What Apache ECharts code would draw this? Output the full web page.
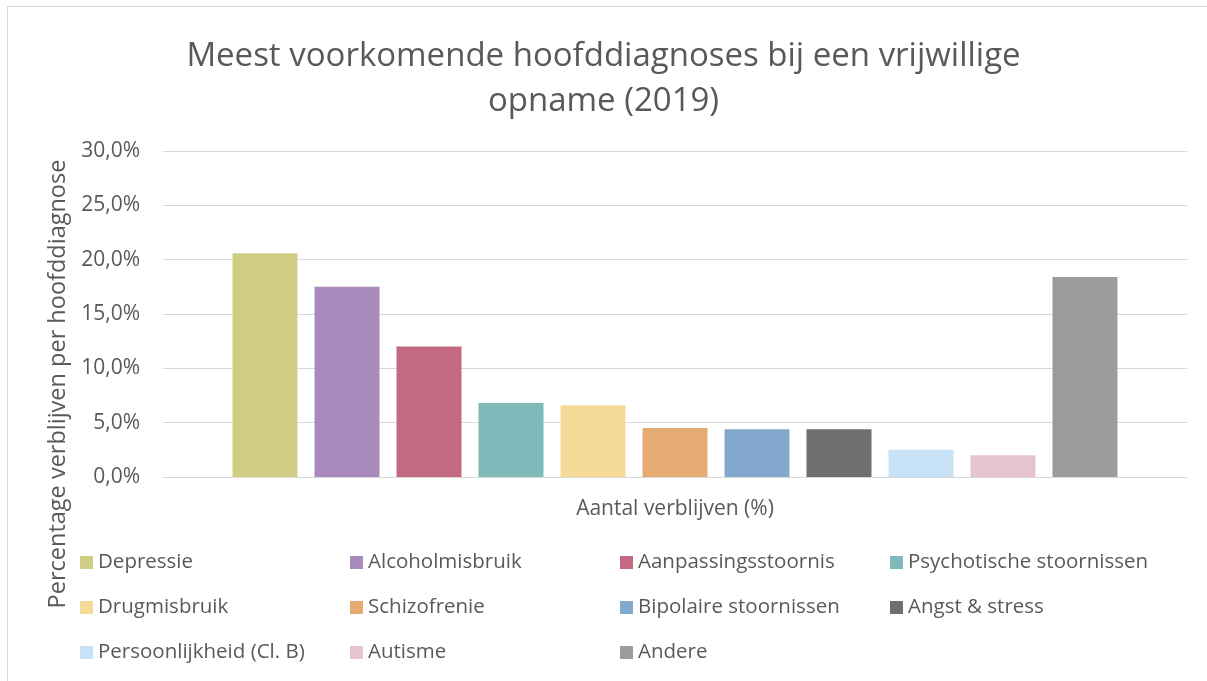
<!DOCTYPE html>
<html>
<head>
<meta charset="utf-8">
<script src="https://cdn.jsdelivr.net/npm/echarts@6/dist/echarts.min.js"></script>
<style>
  html, body { margin: 0; padding: 0; background: #fff; }
  #chart { width: 1207px; height: 681px; }
</style>
</head>
<body>
<div id="chart"></div>
<script>
// data
const categories = ['Aantal verblijven (%)'];
const diagnoses = [
  'Depressie', 'Alcoholmisbruik', 'Aanpassingsstoornis', 'Psychotische stoornissen',
  'Drugmisbruik', 'Schizofrenie', 'Bipolaire stoornissen', 'Angst & stress',
  'Persoonlijkheid (Cl. B)', 'Autisme', 'Andere'
];
const percentages = [20.6, 17.5, 12.0, 6.8, 6.6, 4.5, 4.4, 4.4, 2.5, 2.0, 18.4];
const palette = [
  '#cfce84', '#a88bbc', '#c36a82', '#7fb9ba', '#f5db97', '#e4ab72',
  '#83a8cd', '#6f6f6d', '#c7e2f7', '#e6c4cf', '#9c9c9c'
];
const yTicks = [0, 5, 10, 15, 20, 25, 30];

const font = 'Open Sans';
const textColor = '#595959';
const gridColor = '#d9d9d9';

// legend is laid out in 4 columns, rows go left-to-right
const legendCols = [80, 350, 620, 890];
const legends = legendCols.map((left, c) => ({
  orient: 'vertical',
  left: left,
  top: 550,
  padding: 0,
  itemWidth: 13,
  itemHeight: 13,
  itemGap: 20,
  icon: 'rect',
  selectedMode: false,
  textStyle: { color: textColor, fontSize: 20.5, fontFamily: font, lineHeight: 25 },
  data: diagnoses.filter((_, i) => i % 4 === c)
}));

const chart = echarts.init(document.getElementById('chart'), null, { renderer: 'canvas' });

chart.setOption({
  backgroundColor: '#fff',
  animation: false,
  title: {
    text: 'Meest voorkomende hoofddiagnoses bij een vrijwillige\nopname (2019)',
    left: 'center',
    top: 29,
    textStyle: {
      color: textColor, fontSize: 33, fontWeight: 'normal', fontFamily: font,
      lineHeight: 45, align: 'center'
    }
  },
  legend: legends,
  grid: { left: 163, right: 20, top: 151, bottom: 204 },
  xAxis: {
    type: 'category',
    data: categories,
    axisLine: { lineStyle: { color: gridColor, width: 1 } },
    axisTick: { show: false },
    axisLabel: { color: textColor, fontSize: 21, fontFamily: font, margin: 22 }
  },
  yAxis: {
    type: 'value',
    min: yTicks[0],
    max: yTicks[yTicks.length - 1],
    interval: 5,
    axisLine: { show: false },
    axisTick: { show: false },
    splitLine: { lineStyle: { color: gridColor, width: 1 } },
    axisLabel: {
      color: textColor, fontSize: 21, fontFamily: font, margin: 23,
      formatter: (v) => v.toFixed(1).replace('.', ',') + '%'
    }
  },
  graphic: [
    {
      type: 'rect',
      shape: { x: 7.5, y: 6.5, width: 1230, height: 700 },
      style: { fill: 'none', stroke: gridColor, lineWidth: 1 },
      silent: true
    },
    {
      type: 'text',
      x: 58,
      y: 384,
      rotation: Math.PI / 2,
      style: {
        text: 'Percentage verblijven per hoofddiagnose',
        fill: textColor,
        font: '23.5px "Open Sans"',
        align: 'center',
        verticalAlign: 'middle'
      },
      silent: true
    }
  ],
  series: diagnoses.map((name, i) => ({
    name: name,
    type: 'bar',
    data: [percentages[i]],
    barWidth: 65,
    barGap: '26.15%',
    itemStyle: { color: palette[i] }
  }))
});
</script>
</body>
</html>
